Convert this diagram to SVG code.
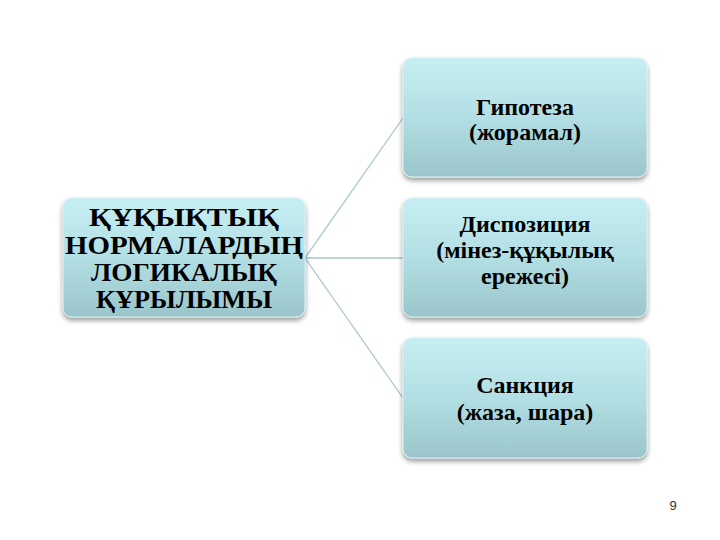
<svg xmlns="http://www.w3.org/2000/svg" width="720" height="540" viewBox="0 0 720 540">
<style>
.box{fill:url(#g);stroke:#d8eef0;stroke-width:1}
.t{font-family:"Liberation Serif","DejaVu Serif",serif;font-weight:bold;fill:#000;text-anchor:middle}
.big{font-size:26px}
.sm{font-size:24px}
.conn{stroke:#a9c5c9;stroke-width:1.3;fill:none}
</style>
<defs>
<linearGradient id="g" x1="0" y1="0" x2="0" y2="1">
<stop offset="0" stop-color="#c6eff3"/>
<stop offset="0.5" stop-color="#b2dfe4"/>
<stop offset="1" stop-color="#9ac6cb"/>
</linearGradient>
<filter id="sh" x="-10%" y="-10%" width="120%" height="130%">
<feGaussianBlur in="SourceAlpha" stdDeviation="2.5"/>
<feOffset dx="0" dy="3" result="b"/>
<feComponentTransfer><feFuncA type="linear" slope="0.4"/></feComponentTransfer>
<feMerge><feMergeNode/><feMergeNode in="SourceGraphic"/></feMerge>
</filter>
</defs>
<rect width="720" height="540" fill="#fff"/>
<g id="connectors">
<line class="conn" x1="305" y1="258" x2="403" y2="118"/>
<line class="conn" x1="305" y1="258" x2="403" y2="258"/>
<line class="conn" x1="305" y1="258" x2="403" y2="398"/>
</g>
<g id="root">
<rect class="box" x="63" y="198" width="242" height="119" rx="9" filter="url(#sh)"/>
<text class="t big" x="184" y="226" textLength="190" lengthAdjust="spacingAndGlyphs">ҚҰҚЫҚТЫҚ</text>
<text class="t big" x="184" y="254" textLength="238" lengthAdjust="spacingAndGlyphs">НОРМАЛАРДЫҢ</text>
<text class="t big" x="184" y="281" textLength="186" lengthAdjust="spacingAndGlyphs">ЛОГИКАЛЫҚ</text>
<text class="t big" x="184" y="308" textLength="176" lengthAdjust="spacingAndGlyphs">ҚҰРЫЛЫМЫ</text>
</g>
<g id="hypothesis">
<rect class="box" x="403" y="58" width="244" height="119" rx="9" filter="url(#sh)"/>
<text class="t sm" x="525" y="115">Гипотеза</text>
<text class="t sm" x="525" y="140">(жорамал)</text>
</g>
<g id="disposition">
<rect class="box" x="403" y="198" width="244" height="119" rx="9" filter="url(#sh)"/>
<text class="t sm" x="525" y="232">Диспозиция</text>
<text class="t sm" x="525" y="258">(мінез-құқылық</text>
<text class="t sm" x="525" y="284">ережесі)</text>
</g>
<g id="sanction">
<rect class="box" x="403" y="338" width="244" height="120" rx="9" filter="url(#sh)"/>
<text class="t sm" x="525" y="393">Санкция</text>
<text class="t sm" x="525" y="420">(жаза, шара)</text>
</g>
<text x="673" y="510" font-family="Liberation Sans, Arial, sans-serif" font-size="13" fill="#333" text-anchor="middle">9</text>
</svg>
